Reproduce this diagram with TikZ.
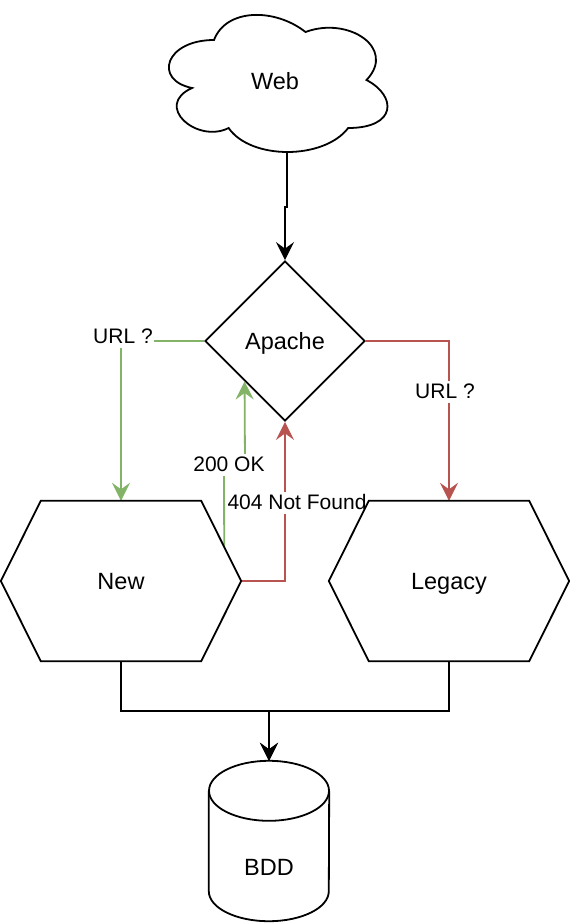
\documentclass[tikz,border=0pt]{standalone}
\usepackage{fontspec}
\setmainfont{Liberation Sans}
\usetikzlibrary{arrows.meta,shapes.geometric,calc}
\definecolor{okgreen}{HTML}{82B366}
\definecolor{nored}{HTML}{B85450}
\begin{document}
\begin{tikzpicture}[x=1pt,y=-1pt,
  shp/.style={line width=1.8pt},
  txt/.style={font=\fontsize{23.5}{28}\selectfont, text height=20.5pt, text depth=4.5pt, inner sep=0pt},
  hexbox/.style={txt, minimum width=240pt, minimum height=160pt},
  conn/.style={line width=1.8pt, -{Stealth[length=18pt,width=18pt,inset=6.5pt]}},
  elabel/.style={font=\fontsize{21}{25}\selectfont, fill=white, text height=16pt, text depth=4pt, inner xsep=1pt, inner ysep=1pt, anchor=base}
]
\useasboundingbox (0,0) rectangle (570,924);

% Web cloud
\draw[shp] (214,40) .. controls (165.2,40) and (153,80) .. (192.04,88)
 .. controls (153,105.6) and (196.92,144) .. (228.64,128)
 .. controls (250.6,160) and (323.8,160) .. (348.2,128)
 .. controls (397,128) and (397,96) .. (366.5,80)
 .. controls (397,48) and (348.2,16) .. (305.5,32)
 .. controls (275,8) and (226.2,8) .. (214,40) -- cycle;
\node[txt] (web) at (275,81) {Web};
\coordinate (webout) at (287,152);

% nodes
\node[txt, diamond, draw, shp, minimum width=160pt, minimum height=160pt, aspect=1] (apache) at (285,341) {Apache};
\node[hexbox] (new) at (121,581) {New};
\node[hexbox] (legacy) at (449,581) {Legacy};
\node[minimum width=120pt, minimum height=160pt, inner sep=0pt] (bdd) at (269,841) {};
\coordinate (nne) at ([xshift=-40pt]new.north east);
\coordinate (join) at (269,711);

% connectors
\draw[conn] (webout) -- (287,207) -- (285,207) -- (apache.north);
\draw[conn, okgreen] (apache.west) -| (new.north);
\draw[conn, nored] (apache.east) -| (legacy.north);
\draw[conn, okgreen] ($(nne)!0.575!(new.east)$) -- (224,463) -- (245,463) -- (apache.south west);
\draw[conn, nored] (new.east) -| (apache.south);
\draw[conn] (new.south) |- (join) -- (bdd.north);
\draw[conn] (legacy.south) |- (join) -- (bdd.north);

% labels
\node[elabel] (l1) at (123,343) {URL ?};
\node[elabel] (l2) at (445,398) {URL ?};
\node[elabel] (l3) at (229,471) {200 OK};
\node[elabel] (l4) at (297,509) {404 Not Found};

% New outline
\draw[shp] (new.west) -- ([xshift=40pt]new.north west) -- ([xshift=-40pt]new.north east) -- (new.east) -- ([xshift=-40pt]new.south east) -- ([xshift=40pt]new.south west) -- cycle;
% Legacy outline
\draw[shp] (legacy.west) -- ([xshift=40pt]legacy.north west) -- ([xshift=-40pt]legacy.north east) -- (legacy.east) -- ([xshift=-40pt]legacy.south east) -- ([xshift=40pt]legacy.south west) -- cycle;

% BDD cylinder
\draw[shp] ([yshift=-30pt]bdd.north west) -- ([yshift=30pt]bdd.south west) arc[start angle=180,end angle=360,x radius=60pt,y radius=30pt] -- ([yshift=-30pt]bdd.north east);
\draw[shp] ($(bdd.north)+(0,30)$) ellipse[x radius=60pt,y radius=30pt];
\node[txt, anchor=base] (bddtext) at (269,875) {BDD};
\end{tikzpicture}
\end{document}
